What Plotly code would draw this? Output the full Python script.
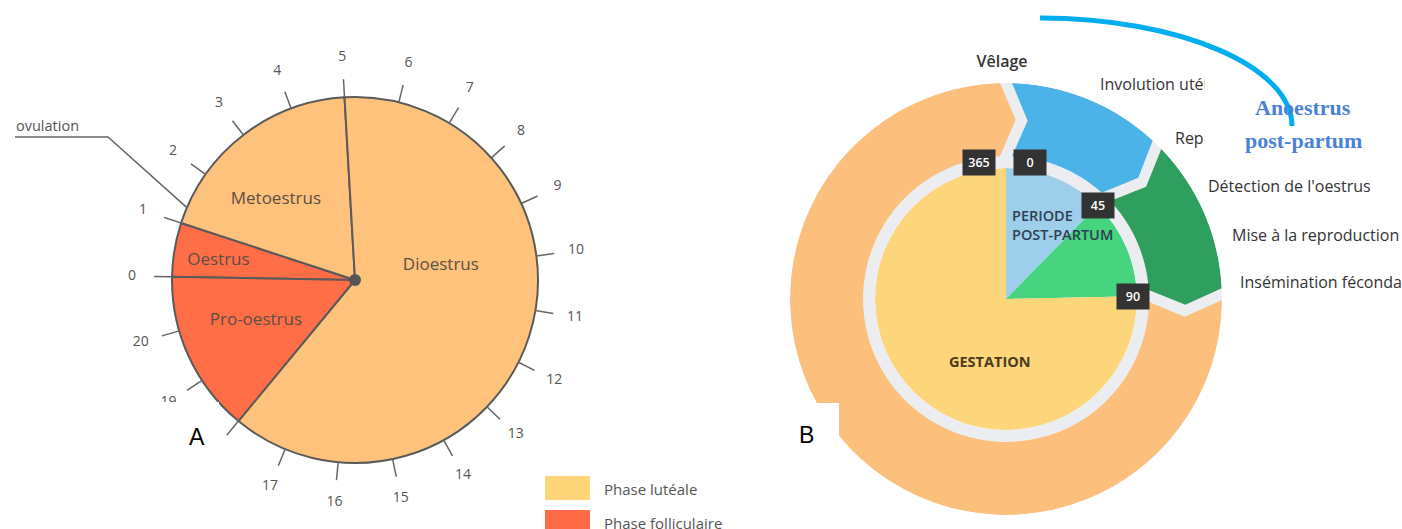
import numpy as np
import plotly.graph_objects as go

W, H = 1402, 529

# ---------------- Panel A : cycle oestral (jours) ----------------
cycle_days = 21
phaseA_names = ["Oestrus", "Metoestrus", "Dioestrus", "Pro-oestrus"]
phaseA_start = [0, 1, 5, 18]
phaseA_length = [1, 4, 13, 3]
phaseA_kind = ["folliculaire", "lutéale", "lutéale", "folliculaire"]
cycle_ticks = list(range(21))
cycle_tick_labels = [str(d) for d in cycle_ticks]
ovulation_day = 1.3

# ---------------- Panel B : cycle annuel de la vache (jours) ----------------
year_days = 365
inner_names = ["Post-partum précoce", "Post-partum tardif", "GESTATION"]
inner_start = [0, 45, 90]
inner_end = [45, 90, 365]
outer_names = ["Involution utérine", "Reproduction", "Gestation"]
outer_start = [0, 45, 90]
outer_end = [45, 90, 365]
day_markers = [365, 0, 45, 90]
step_labels = ["Vêlage", "Involution utérine", "Reproduction",
               "Détection de l'oestrus", "Mise à la reproduction",
               "Insémination fécondante"]
legend_labels = ["Phase lutéale", "Phase folliculaire"]

# ---------------- styles ----------------
colA = {"folliculaire": "#FF6E47", "lutéale": "#FEC27C"}
inner_colors = ["#9DCFEA", "#46D47F", "#FDD67C"]
outer_colors = ["#4BB3E8", "#2F9F5F", "#FDBF7C"]
ring_gray = "#ECEDF1"
legend_colors = ["#FDD67A", "#FF6B47"]
txtA = "#5C4F45"
SANS = "Open Sans"

cA, RA = (355, 280), 183
RA_frame = 240            # polar frame radius (px), leaves room for ticks
rotA = 179                # position of day 0 (degrees, counterclockwise from east)
tick_len = 18
tick_label_r = 223
cB, RB_in, RB_gap, RB_out = (1006, 299), 131, 143, 216

labelA_day = [0.42, 2.6, 9.9, 19.65]
labelA_r = [138, 113, 87, 107]

step_pos = [(1002, 63, "c"), (1100, 86, "l"), (1175, 140, "l"),
            (1208, 188, "l"), (1232, 237, "l"), (1240, 284, "l")]
marker_r = {365: 139, 0: 139, 45: 131, 90: 127}
marker_dang = {365: -11, 0: 10, 45: 0, 90: 0}


def dom(c, R):
    return dict(x=[(c[0] - R) / W, (c[0] + R) / W],
                y=[1 - (c[1] + R) / H, 1 - (c[1] - R) / H])


def P(x, y):
    return x / W, 1 - y / H


def ann(x, y, text, **kw):
    xp, yp = P(x, y)
    d = dict(x=xp, y=yp, xref="paper", yref="paper", text=text,
             showarrow=False, xanchor="center", yanchor="middle")
    d.update(kw)
    return d


degA = 360 / cycle_days
degB = 360 / year_days

fig = go.Figure()

# ---- Panel A wedges ----
fig.add_trace(go.Barpolar(
    r=[RA] * len(phaseA_names),
    theta=[(s + l / 2) * degA for s, l in zip(phaseA_start, phaseA_length)],
    width=[l * degA for l in phaseA_length],
    marker=dict(color=[colA[k] for k in phaseA_kind],
                line=dict(color="#5A5A5A", width=2)),
    subplot="polar", hoverinfo="skip", showlegend=False))
fig.add_trace(go.Scatterpolar(
    r=labelA_r, theta=[d * degA for d in labelA_day], mode="text",
    text=phaseA_names, textfont=dict(family=SANS, size=17, color=txtA),
    subplot="polar", hoverinfo="skip", showlegend=False))
fig.add_trace(go.Scatterpolar(
    r=[0], theta=[0], mode="markers",
    marker=dict(size=12, color="#555555"),
    subplot="polar", hoverinfo="skip", showlegend=False))
# day ticks
tr, tt = [], []
for d in cycle_ticks:
    tr += [RA, RA + tick_len, None]
    tt += [d * degA, d * degA, None]
fig.add_trace(go.Scatterpolar(
    r=tr, theta=tt, mode="lines", line=dict(color="#666666", width=1.5),
    subplot="polar", hoverinfo="skip", showlegend=False))
fig.add_trace(go.Scatterpolar(
    r=[tick_label_r] * len(cycle_ticks), theta=[d * degA for d in cycle_ticks],
    mode="text", text=cycle_tick_labels,
    textfont=dict(family=SANS, size=14, color="#555555"),
    subplot="polar", hoverinfo="skip", showlegend=False))

# ---- Panel B inner pie ----
fig.add_trace(go.Barpolar(
    r=[RB_in] * 3,
    theta=[(s + e) / 2 * degB for s, e in zip(inner_start, inner_end)],
    width=[(e - s) * degB for s, e in zip(inner_start, inner_end)],
    marker=dict(color=inner_colors, line=dict(width=0)),
    subplot="polar2", hoverinfo="skip", showlegend=False))
# gray ring
fig.add_trace(go.Barpolar(
    r=[RB_out - RB_in] * 2, base=[RB_in] * 2, theta=[90, 270], width=[180, 180],
    marker=dict(color=ring_gray, line=dict(width=0)),
    subplot="polar2", hoverinfo="skip", showlegend=False))


# outer chevron segments
def seg_poly(a0, a1, n=60, depth=5.0, half_gap_px=6.0):
    hg = lambda r: np.degrees(half_gap_px / r)
    rm = (RB_gap + RB_out) / 2
    outer = np.linspace(a0 + hg(RB_out), a1 - hg(RB_out), n)
    inner = np.linspace(a1 - hg(RB_gap), a0 + hg(RB_gap), n)
    r = [RB_out] * n + [rm] + [RB_gap] * n + [rm] + [RB_out]
    th = list(outer) + [a1 + depth - hg(rm)] + list(inner) + \
         [a0 + depth + hg(rm)] + [outer[0]]
    return r, th


for s, e, c, nm in zip(outer_start, outer_end, outer_colors, outer_names):
    r, th = seg_poly(s * degB, e * degB)
    fig.add_trace(go.Scatterpolar(
        r=r, theta=th, mode="lines", fill="toself", fillcolor=c,
        line=dict(width=0, color=c), name=nm,
        subplot="polar2", hoverinfo="skip", showlegend=False))

# ---- step labels (cartesian overlay, pixel space) ----
for lab, (x, y, al) in zip(step_labels, step_pos):
    fig.add_trace(go.Scatter(
        x=[x], y=[y], mode="text", text=[lab],
        textposition="middle center" if al == "c" else "middle right",
        textfont=dict(family=SANS, size=16, color="#333333",
                      weight=600 if lab == "Vêlage" else 500),
        hoverinfo="skip", showlegend=False, cliponaxis=False))

shapes = []
annotations = []

# masks (white boxes of the original composite)
for (x0, y0, x1, y1) in [(150, 402, 219, 470), (219, 438, 232, 470),
                         (770, 403, 839, 529), (1205, 70, 1402, 165)]:
    a, b = P(x0, y0)
    c_, d = P(x1, y1)
    shapes.append(dict(type="rect", xref="paper", yref="paper",
                       x0=a, x1=c_, y0=d, y1=b, fillcolor="white",
                       line=dict(width=0), layer="above"))

# blue arc
p0 = P(1040, 18)
p1 = P(1040 + 0.552 * 252, 18)
p2 = P(1292, 126 - 0.552 * 108)
p3 = P(1292, 126)
shapes.append(dict(type="path", xref="paper", yref="paper",
                   path=f"M {p0[0]},{p0[1]} C {p1[0]},{p1[1]} {p2[0]},{p2[1]} {p3[0]},{p3[1]}",
                   line=dict(color="#00AEEF", width=5), layer="above"))

# ovulation leader
ang = np.radians(rotA - ovulation_day * degA)
ox, oy = cA[0] + RA * np.cos(ang), cA[1] - RA * np.sin(ang)
q0, q1, q2 = P(15, 137), P(108, 137), P(ox, oy)
shapes.append(dict(type="path", xref="paper", yref="paper",
                   path=f"M {q0[0]},{q0[1]} L {q1[0]},{q1[1]} L {q2[0]},{q2[1]}",
                   line=dict(color="#666666", width=1.5), layer="above"))
annotations.append(ann(14, 125, "ovulation", xanchor="left",
                       font=dict(family=SANS, size=14.5, color="#555555")))

# legend
for i, (lab, col) in enumerate(zip(legend_labels, legend_colors)):
    top = 476 + i * 34
    a, b = P(545, top)
    c_, d = P(590, top + 24)
    shapes.append(dict(type="rect", xref="paper", yref="paper", x0=a, x1=c_,
                       y0=d, y1=b, fillcolor=col, line=dict(width=0), layer="above"))
    annotations.append(ann(602, top + 13, lab, xanchor="left",
                           font=dict(family=SANS, size=15, color="#555555")))

# day marker boxes
for dm in day_markers:
    a = np.radians(dm * degB + marker_dang[dm])
    x = cB[0] + marker_r[dm] * np.sin(a)
    y = cB[1] - marker_r[dm] * np.cos(a)
    annotations.append(ann(x, y, str(dm), bgcolor="#333333", borderpad=4,
                           width=24, font=dict(family=SANS, size=12.5,
                                               color="white", weight=600)))

# inner texts B
annotations.append(ann(1010, 225, "PERIODE<br>POST-PARTUM", xanchor="left",
                       align="left",
                       font=dict(family=SANS, size=14.5, color="#2F3E52", weight=600)))
annotations.append(ann(990, 361, "GESTATION",
                       font=dict(family=SANS, size=14.5, color="#4B3B1E", weight=700)))

# Anoestrus post-partum
for t, y in [("Anoestrus", 108), ("post-partum", 140)]:
    annotations.append(ann(1303, y, t,
                           font=dict(family="Liberation Serif", size=22,
                                     color="#4B82D6", weight=700)))

# panel letters
for t, x, y in [("A", 197, 437), ("B", 806, 435)]:
    annotations.append(ann(x, y, t, font=dict(family="Liberation Sans", size=23,
                                              color="black")))

fig.update_layout(
    width=W, height=H, margin=dict(l=0, r=0, t=0, b=0),
    paper_bgcolor="white", plot_bgcolor="rgba(0,0,0,0)",
    showlegend=False,
    xaxis=dict(range=[0, W], visible=False, fixedrange=True, domain=[0, 1]),
    yaxis=dict(range=[H, 0], visible=False, fixedrange=True, domain=[0, 1]),
    polar=dict(
        domain=dom(cA, RA_frame), bgcolor="rgba(0,0,0,0)",
        radialaxis=dict(visible=False, range=[0, RA_frame]),
        angularaxis=dict(visible=False, rotation=rotA, direction="clockwise")),
    polar2=dict(
        domain=dom(cB, RB_out), bgcolor="rgba(0,0,0,0)",
        radialaxis=dict(visible=False, range=[0, RB_out]),
        angularaxis=dict(visible=False, rotation=90, direction="clockwise")),
    shapes=shapes, annotations=annotations,
)

fig.write_html("out.html", config={"displayModeBar": False},
               post_script="document.body.style.margin='0px';")
